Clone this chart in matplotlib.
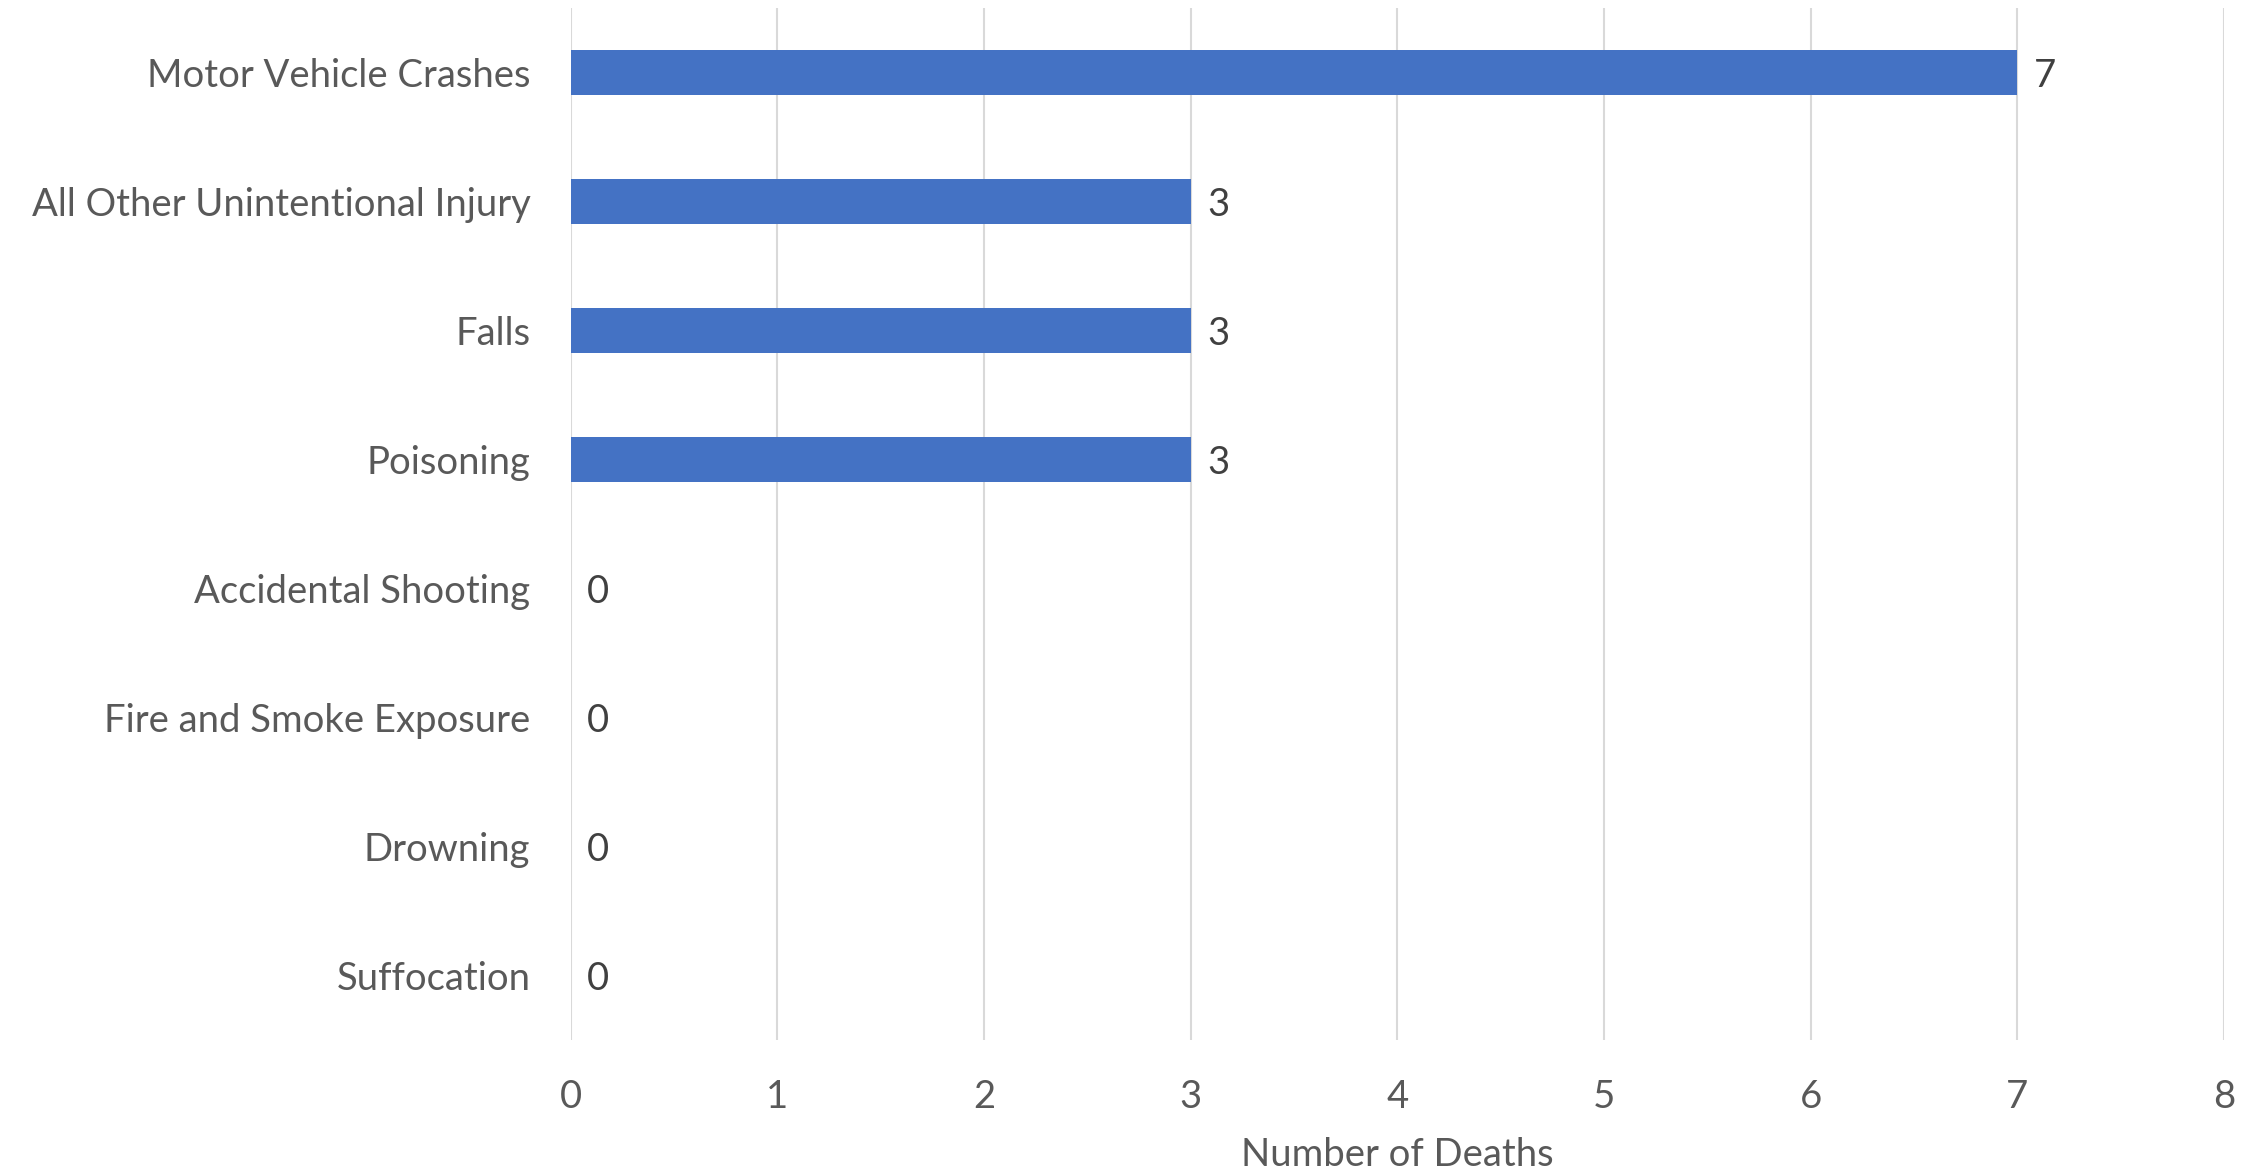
import matplotlib
matplotlib.use("Agg")
import matplotlib.pyplot as plt

categories = ["Motor Vehicle Crashes", "All Other Unintentional Injury", "Falls",
              "Poisoning", "Accidental Shooting", "Fire and Smoke Exposure",
              "Drowning", "Suffocation"]
deaths = [7, 3, 3, 3, 0, 0, 0, 0]
x_ticks = [0, 1, 2, 3, 4, 5, 6, 7, 8]
x_label = "Number of Deaths"

plt.rcParams['font.family'] = ['Lato', 'DejaVu Sans']

W, H, DPI = 2259, 1173, 100
fig = plt.figure(figsize=(W / DPI, H / DPI), dpi=DPI)
left, right = 570.7 / W, 2224 / W
top, bottom = 1 - 8 / H, 1 - 1040 / H
ax = fig.add_axes([left, bottom, right - left, top - bottom])

FS = 27.5
ypos = list(range(len(categories)))
ax.barh(ypos, deaths, height=0.35, color="#4472C4", zorder=3)
for y, v in zip(ypos, deaths):
    ax.annotate(str(v), xy=(v, y), xytext=(12, 0), textcoords="offset points",
                va="center_baseline", ha="left", fontsize=FS, color="#404040")

ax.set_xlim(0, 8)
ax.set_ylim(len(categories) - 0.5, -0.5)
ax.set_xticks(x_ticks)
ax.set_yticks(ypos)
ax.set_yticklabels(categories)
ax.tick_params(axis="y", length=0, pad=29, labelsize=FS, labelcolor="#595959")
ax.tick_params(axis="x", length=0, pad=28, labelsize=FS, labelcolor="#595959")
ax.grid(axis="x", color="#D9D9D9", linewidth=1.5, zorder=0)
ax.grid(axis="y", visible=False)
for s in ax.spines.values():
    s.set_visible(False)
ax.set_xlabel(x_label, fontsize=FS, color="#595959", labelpad=16)

fig.savefig("out.png", dpi=DPI, facecolor="white")
